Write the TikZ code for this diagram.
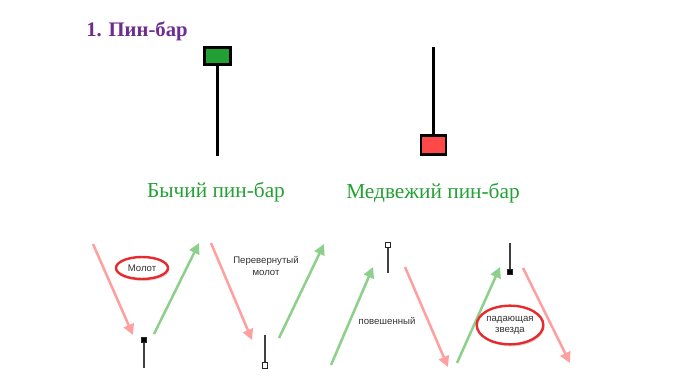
\documentclass[tikz,border=0pt]{standalone}
\usepackage{fontspec}
\setmainfont{Liberation Serif}
\newfontfamily\labelfont{Liberation Sans}
\usetikzlibrary{positioning,arrows.meta,shapes.geometric,shadows}

\definecolor{titlepurple}{HTML}{6F2C91}
\definecolor{bullgreen}{HTML}{22A034}
\definecolor{bearred}{HTML}{FF4848}
\definecolor{upgreen}{HTML}{8CD08C}
\definecolor{downred}{HTML}{FFA0A0}
\definecolor{ringred}{HTML}{E82A2E}

\begin{document}
\begin{tikzpicture}[x=0.75pt,y=-0.75pt,
	every node/.style={inner sep=0pt},
	candlebody/.style={draw=black,line width=2.2pt,
		drop shadow={opacity=0.2,shadow xshift=0.8pt,shadow yshift=-1pt}},
	wick/.style={line width=2.2pt},
	minibody/.style={draw=black!85,line width=0.9pt,minimum size=4.3pt},
	miniwick/.style={black!75,line width=0.8pt},
	uptrend/.style={upgreen,line width=1.9pt,-{Triangle[length=8pt,width=8pt]}},
	downtrend/.style={downred,line width=1.9pt,-{Triangle[length=8pt,width=8pt]}},
	ring/.style={ellipse,draw=ringred,line width=1.8pt,fill=white,
		drop shadow={opacity=0.3,shadow xshift=1pt,shadow yshift=-1.5pt}},
	patlabel/.style={font=\labelfont\fontsize{7.2}{8.4}\selectfont,align=center,text=black!80}
	]
	\useasboundingbox (0,0) rectangle (690,388);

	% Title
	\node[anchor=base west,text=titlepurple,font=\bfseries\fontsize{15.5}{18}\selectfont]
		(title) at (86,37) {1. Пин-бар};

	% Bullish pin bar
	\coordinate (bulltail) at (217.5,156);
	\node[candlebody,fill=bullgreen,minimum width=19.5pt,minimum height=12.75pt]
		(bullbody) at (217.5,56) {};
	\draw[wick] (bullbody.south) -- (bulltail);
	\node[anchor=base,text=bullgreen,font=\fontsize{16}{19}\selectfont]
		(bulltext) at (216,198) {Бычий пин-бар};

	% Bearish pin bar
	\coordinate (beartail) at (433.5,47);
	\node[candlebody,fill=bearred,minimum width=18.75pt,minimum height=14.25pt]
		(bearbody) at (433.5,145) {};
	\draw[wick] (bearbody.north) -- (beartail);
	\node[anchor=base,text=bullgreen,font=\fontsize{16}{19}\selectfont]
		(beartext) at (433,199) {Медвежий пин-бар};

	% Hammer
	\coordinate (hammerin) at (93,244);
	\coordinate (hammerbottom) at (133,335);
	\coordinate (hammerout) at (154,334);
	\coordinate (hammertop) at (199,243);
	\coordinate (hammertail) at (144,368);
	\draw[downtrend] (hammerin) -- (hammerbottom);
	\draw[uptrend] (hammerout) -- (hammertop);
	\node[minibody,fill=black] (hammer) at (144,340) {};
	\draw[miniwick] (hammer.south) -- (hammertail);
	\node[ring,patlabel,minimum width=39pt,minimum height=16.5pt] (hammerring) at (142,268) {Молот};

	% Inverted hammer
	\coordinate (invin) at (211,243);
	\coordinate (invbottom) at (252,340);
	\coordinate (invout) at (279,338);
	\coordinate (invtop) at (324,244);
	\coordinate (invtail) at (265,335);
	\draw[downtrend] (invin) -- (invbottom);
	\draw[uptrend] (invout) -- (invtop);
	\node[minibody,fill=white] (invhammer) at (265,365.5) {};
	\draw[miniwick] (invhammer.north) -- (invtail);
	\node[patlabel] (invtext) at (266,266) {Перевернутый\\молот};

	% Hanging man
	\coordinate (hangin) at (331,365);
	\coordinate (hangtop) at (373,267);
	\coordinate (hangout) at (405,267);
	\coordinate (hangbottom) at (448,367);
	\coordinate (hangtail) at (388,273);
	\draw[uptrend] (hangin) -- (hangtop);
	\draw[downtrend] (hangout) -- (hangbottom);
	\node[minibody,fill=white] (hangman) at (388,245) {};
	\draw[miniwick] (hangman.south) -- (hangtail);
	\node[patlabel] (hangtext) at (387,321) {повешенный};

	% Shooting star
	\coordinate (starin) at (457,363);
	\coordinate (startop) at (500,267);
	\coordinate (starout) at (523,268);
	\coordinate (starbottom) at (570,363);
	\coordinate (startail) at (510,243);
	\draw[uptrend] (starin) -- (startop);
	\draw[downtrend] (starout) -- (starbottom);
	\node[minibody,fill=black] (star) at (510,272) {};
	\draw[miniwick] (star.north) -- (startail);
	\node[ring,patlabel,minimum width=44pt,minimum height=29pt] (starring) at (510,325) {падающая\\звезда};
\end{tikzpicture}
\end{document}
